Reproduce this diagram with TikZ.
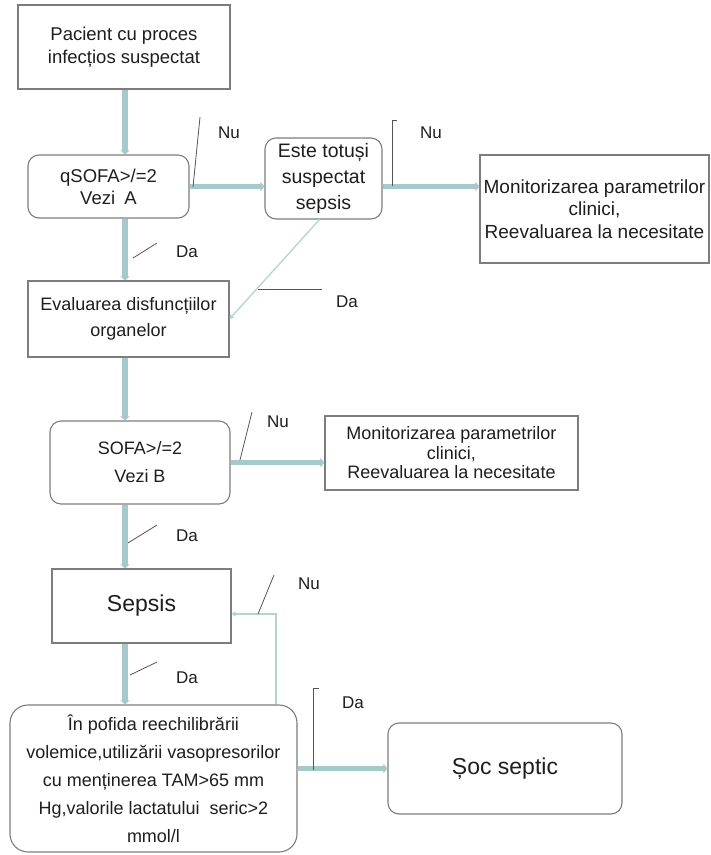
\documentclass[tikz,border=0pt]{standalone}
\usepackage{fontspec}
\setmainfont{Liberation Sans}
\usetikzlibrary{arrows.meta}
\definecolor{connc}{RGB}{166,202,202}
\definecolor{thinc}{RGB}{180,212,212}
\definecolor{bordc}{RGB}{125,125,125}
\definecolor{markc}{RGB}{85,85,85}
\definecolor{txtc}{RGB}{30,30,30}
\tikzset{
  box/.style={draw=bordc, line width=1.1pt, fill=white, align=center, text=txtc,
    inner sep=0pt, font=\fontsize{18}{22}\selectfont},
  rbox/.style={box, rounded corners=11pt},
  flow/.style={draw=connc, line width=5.5pt, line cap=butt,
    -{Triangle[length=4pt,width=9pt]}},
  thinflow/.style={draw=thinc, line width=1.3pt,
    -{Triangle[length=4pt,width=5pt]}},
  tickline/.style={draw=markc, line width=0.8pt},
  lbl/.style={text=txtc, font=\fontsize{17}{20}\selectfont, inner sep=0pt},
}
\begin{document}
\begin{tikzpicture}[x=1pt,y=-1pt]
\useasboundingbox (0,0) rectangle (711,855);
\fill[white] (0,0) rectangle (711,855);

% nodes
\node[box, minimum width=212pt, minimum height=84pt, font=\fontsize{18.5}{23}\selectfont]
  (pac) at (124,47) {Pacient cu proces\\infecțios suspectat};
\node[rbox, minimum width=161pt, minimum height=63pt, font=\fontsize{18.5}{22}\selectfont]
  (qsofa) at (108.5,186.5) {qSOFA>/=2\\Vezi\enspace A};
\node[rbox, minimum width=117pt, minimum height=81pt, font=\fontsize{19.5}{26}\selectfont]
  (este) at (323.5,178.5) {Este totuși\\suspectat\\sepsis};
\node[box, minimum width=229pt, minimum height=108pt, font=\fontsize{19}{22.5}\selectfont]
  (mon1) at (594.5,209) {Monitorizarea parametrilor\\clinici,\\Reevaluarea la necesitate};
\node[box, minimum width=201pt, minimum height=76pt, font=\fontsize{18}{26}\selectfont]
  (eval) at (128.5,319) {Evaluarea disfuncțiilor\\organelor};
\node[rbox, minimum width=180pt, minimum height=83pt, font=\fontsize{18}{28}\selectfont]
  (sofa) at (140,462.5) {SOFA>/=2\\Vezi B};
\node[box, minimum width=253pt, minimum height=74pt, font=\fontsize{18}{19.5}\selectfont]
  (mon2) at (451.5,453) {Monitorizarea parametrilor\\clinici,\\Reevaluarea la necesitate};
\node[box, minimum width=179pt, minimum height=74pt, font=\fontsize{23}{26}\selectfont]
  (sepsis) at (141.5,606) {Sepsis};
\node[rbox, minimum width=287pt, minimum height=147pt, rounded corners=18pt, font=\fontsize{18}{28}\selectfont]
  (pofida) at (153.5,778.5) {În pofida reechilibrării\\volemice,utilizării vasopresorilor\\cu menținerea TAM>65 mm\\Hg,valorile lactatului\ \ seric>2\\mmol/l};
\node[rbox, minimum width=234pt, minimum height=91pt, font=\fontsize{23}{26}\selectfont]
  (soc) at (505,768.5) {Șoc septic};

% helper coordinates
\coordinate (spine) at (125,0);
\coordinate (fbturn) at (276,614);

% main connectors
\draw[flow] (pac.south -| spine) -- (qsofa.north -| spine);
\draw[flow] (qsofa.south -| spine) -- (eval.north -| spine);
\draw[flow] (eval.south -| spine) -- (sofa.north -| spine);
\draw[flow] (sofa.south -| spine) -- (sepsis.north -| spine);
\draw[flow] (sepsis.south -| spine) -- (pofida.north -| spine);
\draw[flow] (qsofa.east) -- (qsofa.east -| este.west);
\draw[flow] (este.east |- qsofa.east) -- (mon1.west |- qsofa.east);
\draw[flow] (sofa.east) -- (sofa.east -| mon2.west);
\draw[flow] (pofida.east |- soc.west) -- (soc.west);

% thin connectors
\draw[thinflow] (320,219) -- (eval.east);
\draw[thinflow] (pofida.north -| fbturn) -- (fbturn) -- (fbturn -| sepsis.east);

% markers and labels
\draw[tickline] (193,187) -- (200,117);
\node[lbl] at (229,133) {Nu};
\draw[tickline] (392,186) -- (392,120) -- (397,120);
\node[lbl] at (431,133) {Nu};
\draw[tickline] (133,258) -- (157,243);
\node[lbl] at (187,252) {Da};
\draw[tickline] (258,289) -- (322,289);
\node[lbl] at (347,302) {Da};
\draw[tickline] (240,460) -- (252,412);
\node[lbl] at (278,422) {Nu};
\draw[tickline] (128,543) -- (157,525);
\node[lbl] at (187,536) {Da};
\draw[tickline] (258,614) -- (274,575);
\node[lbl] at (309,584) {Nu};
\draw[tickline] (130,675) -- (157,662);
\node[lbl] at (187,678) {Da};
\draw[tickline] (313,770) -- (313,688) -- (319,688);
\node[lbl] at (353,703) {Da};
\end{tikzpicture}
\end{document}
